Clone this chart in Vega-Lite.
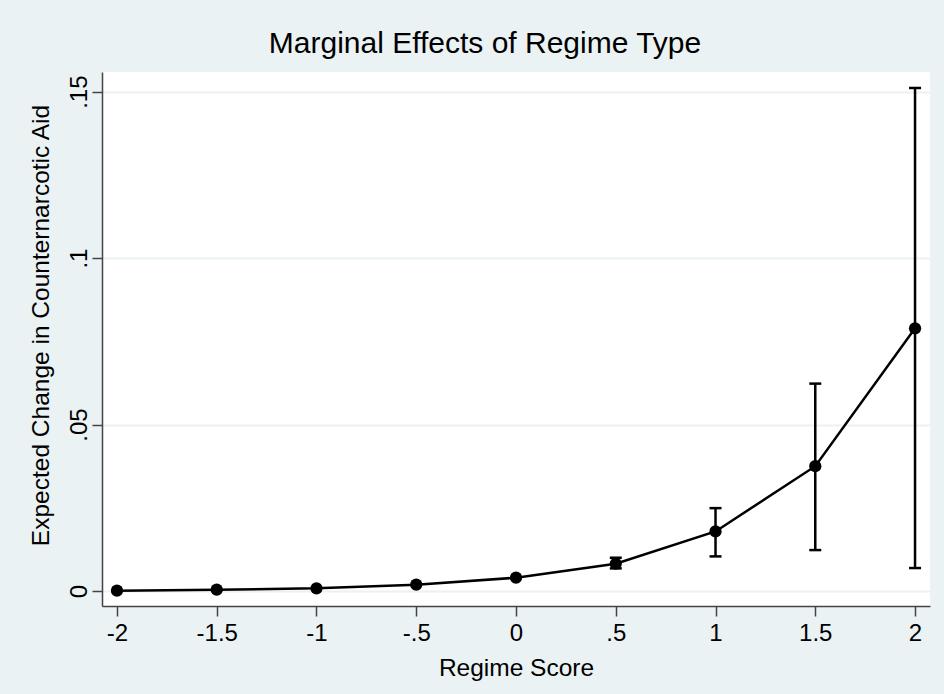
{
  "$schema": "https://vega.github.io/schema/vega-lite/v6.json",
  "autosize": {"type": "none"},
  "width": 828,
  "height": 534,
  "padding": {"left": 102, "top": 72, "right": 14, "bottom": 88},
  "background": "#EAF2F3",
  "config": {
    "view": {"fill": "white", "stroke": null},
    "font": "Liberation Sans"
  },
  "title": {
    "text": "Marginal Effects of Regime Type",
    "fontSize": 30,
    "fontWeight": "normal",
    "color": "black",
    "font": "Liberation Sans",
    "anchor": "middle",
    "frame": "group",
    "dx": -31,
    "dy": 28,
    "baseline": "alphabetic",
    "offset": 17
  },
  "data": {
    "values": [
      {"score": -2, "effect": 0.0001, "lo": null, "hi": null},
      {"score": -1.5, "effect": 0.0004, "lo": null, "hi": null},
      {"score": -1, "effect": 0.0008, "lo": null, "hi": null},
      {"score": -0.5, "effect": 0.0019, "lo": null, "hi": null},
      {"score": 0, "effect": 0.0040, "lo": null, "hi": null},
      {"score": 0.5, "effect": 0.0082, "lo": 0.0068, "hi": 0.0100},
      {"score": 1, "effect": 0.0179, "lo": 0.0104, "hi": 0.0249},
      {"score": 1.5, "effect": 0.0375, "lo": 0.0123, "hi": 0.0623},
      {"score": 2, "effect": 0.0789, "lo": 0.0069, "hi": 0.1511}
    ]
  },
  "encoding": {
    "x": {
      "field": "score",
      "type": "quantitative",
      "scale": {"domain": [-2.075, 2.075], "nice": false, "zero": false},
      "axis": {
        "title": "Regime Score",
        "values": [-2, -1.5, -1, -0.5, 0, 0.5, 1, 1.5, 2],
        "labelExpr": "replace(replace(format(datum.value, '~g'), '0.', '.'), '−', '-')",
        "grid": false,
        "domainColor": "#444444",
        "domainWidth": 1.5,
        "tickColor": "#444444",
        "tickWidth": 1.5,
        "tickSize": 10,
        "labelFontSize": 24,
        "labelColor": "black",
        "labelPadding": 5,
        "labelFont": "Liberation Sans",
        "titleFontSize": 24.5,
        "titleFontWeight": "normal",
        "titleColor": "black",
        "titleFont": "Liberation Sans",
        "titlePadding": 11
      }
    }
  },
  "layer": [
    {
      "mark": {"type": "line", "color": "black", "strokeWidth": 2.5},
      "encoding": {
        "y": {
          "field": "effect",
          "type": "quantitative",
          "scale": {"domain": [-0.0045, 0.1559], "nice": false, "zero": false},
          "axis": {
            "title": "Expected Change in Counternarcotic Aid",
            "values": [0, 0.05, 0.1, 0.15],
            "labelExpr": "replace(format(datum.value, '~g'), '0.', '.')",
            "labelAngle": -90,
            "labelAlign": "center",
            "labelBaseline": "bottom",
            "grid": true,
            "gridColor": "#EAF2F3",
            "gridWidth": 2,
            "domainColor": "#444444",
            "domainWidth": 1.5,
            "tickColor": "#444444",
            "tickWidth": 1.5,
            "tickSize": 10,
            "labelFontSize": 24,
            "labelColor": "black",
            "labelPadding": 1,
            "labelFont": "Liberation Sans",
            "titleFontSize": 24.5,
            "titleFontWeight": "normal",
            "titleColor": "black",
            "titleFont": "Liberation Sans",
            "titlePadding": 14,
            "titleY": 253
          }
        }
      }
    },
    {
      "transform": [{"filter": "datum.lo != null"}],
      "mark": {"type": "rule", "color": "black", "strokeWidth": 2.5},
      "encoding": {
        "y": {"field": "lo", "type": "quantitative"},
        "y2": {"field": "hi"}
      }
    },
    {
      "transform": [{"filter": "datum.lo != null"}],
      "mark": {"type": "tick", "color": "black", "orient": "horizontal", "size": 12, "thickness": 2.5, "opacity": 1},
      "encoding": {"y": {"field": "lo", "type": "quantitative"}}
    },
    {
      "transform": [{"filter": "datum.lo != null"}],
      "mark": {"type": "tick", "color": "black", "orient": "horizontal", "size": 12, "thickness": 2.5, "opacity": 1},
      "encoding": {"y": {"field": "hi", "type": "quantitative"}}
    },
    {
      "mark": {"type": "point", "filled": true, "color": "black", "size": 150, "opacity": 1},
      "encoding": {"y": {"field": "effect", "type": "quantitative"}}
    }
  ]
}
